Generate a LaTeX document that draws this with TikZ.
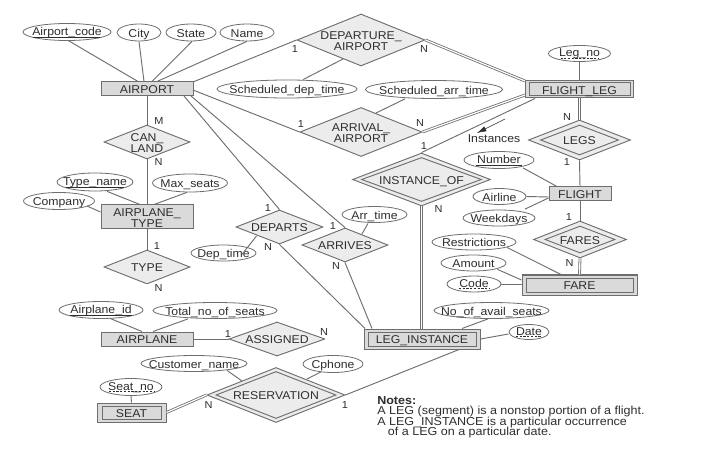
\documentclass[tikz,border=0pt]{standalone}
\usepackage{fontspec}
\setmainfont[FakeStretch=1.08]{Liberation Sans}
\usetikzlibrary{shapes.geometric,arrows.meta}
\definecolor{lc}{HTML}{6E6E6E}
\definecolor{tc}{HTML}{2E2E2E}
\definecolor{rf}{HTML}{DADADA}
\definecolor{df}{HTML}{ECECEC}
\AtBeginDocument{\lineskiplimit=-6pt\relax}
\newcommand{\zt}[1]{\vbox to 0pt{\vss\hbox to 0pt{\hss\smash{\lower3.7pt\hbox{\begin{tabular}{@{}c@{}}#1\end{tabular}}}\hss}\vss}}
\newcommand{\zu}[1]{\vbox to 0pt{\vss\hbox to 0pt{\hss\smash{\lower2.7pt\hbox{\begin{tabular}{@{}c@{}}#1\end{tabular}}}\hss}\vss}}
\tikzset{
  basefont/.style={font=\fontsize{8.5}{7.9}\selectfont,text=tc},
  ent/.style={shape=rectangle,draw=lc,fill=rf,line width=.75pt,inner sep=0pt,basefont,minimum width=#1*.75pt},
  rel/.style n args={2}{shape=diamond,draw=lc,fill=df,line width=.7pt,inner sep=0pt,basefont,minimum width=#1*1.5pt,minimum height=#2*1.5pt},
  att/.style n args={2}{shape=ellipse,draw=lc,fill=white,line width=.6pt,inner sep=0pt,basefont,minimum width=#1*1.5pt,minimum height=#2*1.5pt},
  conn/.style={draw=lc,line width=.7pt},
  dbl/.style={draw=lc,line width=.6pt,double=white,double distance=.9pt},
  uline/.style={draw=tc,line width=.4pt},
  duline/.style={draw=tc,line width=.4pt,dash pattern=on 1.6pt off 1.2pt},
  card/.style={inner sep=0pt,font=\fontsize{7.6}{8}\selectfont,text=tc}
}
\begin{document}
\begin{tikzpicture}[x=.75pt,y=-.75pt]
\useasboundingbox (0,0) rectangle (701,460);
\fill[white] (0,0) rectangle (701,460);
% entities
\node[ent=92,minimum height=10.5pt] (airport) at (147,89) {\zt{AIRPORT}};
\node[ent=92,minimum height=18pt] (airtype) at (147,217) {\zt{AIRPLANE\_\\TYPE}};
\node[ent=92,minimum height=10.5pt] (airplane) at (147,339) {\zt{AIRPLANE}};
\node[ent=62,minimum height=10.5pt] (flight) at (580,194) {\zt{FLIGHT}};
\node[ent=108,minimum height=12.75pt] (fleg) at (579,89.5) {};
\node[ent=101,minimum height=9.75pt] (flegin) at (579.5,89.5) {\zt{FLIGHT\_LEG}};
\node[ent=115,minimum height=15pt] (fare) at (579.5,285) {};
\node[ent=107,minimum height=10.5pt] (farein) at (579.5,285) {\zt{FARE}};
\node[ent=116,minimum height=15pt] (leginst) at (422,339) {};
\node[ent=108,minimum height=10.5pt] (leginstin) at (422,339) {\zt{LEG\_INSTANCE}};
\node[ent=69,minimum height=14.25pt] (seat) at (131.5,412.5) {};
\node[ent=59,minimum height=9.75pt] (seatin) at (131.5,412.5) {\zt{SEAT}};
% relationships
\node[rel={43}{17}] (canland) at (147,142) {\zt{CAN\_\\LAND}};
\node[rel={43}{17}] (type) at (147,267) {\zt{TYPE}};
\node[rel={48}{17}] (assigned) at (277,339) {\zt{ASSIGNED}};
\node[rel={64}{26}] (deptair) at (361,40) {\zt{DEPARTURE\_\\AIRPORT}};
\node[rel={61}{24.5}] (arrair) at (361,132) {\zt{ARRIVAL\_\\AIRPORT}};
\node[rel={43.5}{17}] (departs) at (279.5,227) {\zt{DEPARTS}};
\node[rel={43}{17}] (arrives) at (345,245) {\zt{ARRIVES}};
\node[rel={69}{27.5}] (reserv) at (276,395) {};
\node[rel={60}{23.5}] (reservin) at (276,395) {\zt{RESERVATION}};
\node[rel={69}{26.5}] (instof) at (421.5,179.5) {};
\node[rel={60}{22}] (instofin) at (421.5,179.5) {\zt{INSTANCE\_OF}};
\node[rel={51}{20}] (legs) at (579.5,140) {};
\node[rel={39}{15}] (legsin) at (579.5,140) {\zt{LEGS}};
\node[rel={46.5}{18.5}] (fares) at (580,239.5) {};
\node[rel={35}{13.5}] (faresin) at (580,239.5) {\zt{FARES}};
% attributes
\node[att={44}{8.5}] (acode) at (67,32) {\zu{Airport\_code}};
\node[att={22}{8.5}] (city) at (139,32.5) {\zt{City}};
\node[att={25}{8.5}] (state) at (191,32.5) {\zt{State}};
\node[att={27}{8.5}] (name) at (247,32.5) {\zt{Name}};
\node[att={38}{9}] (tname) at (95,182) {\zu{Type\_name}};
\node[att={37.5}{9}] (maxseats) at (190,183) {\zt{Max\_seats}};
\node[att={35.5}{8.5}] (company) at (59,201) {\zt{Company}};
\node[att={42}{8.5}] (apid) at (101,310) {\zu{Airplane\_id}};
\node[att={62}{8}] (totseats) at (215,310.5) {\zt{Total\_no\_of\_seats}};
\node[att={53}{8}] (custname) at (194,363.5) {\zt{Customer\_name}};
\node[att={30}{8.5}] (cphone) at (333,364) {\zt{Cphone}};
\node[att={31}{8.5}] (seatno) at (131,387) {\zu{Seat\_no}};
\node[att={70}{9}] (sdep) at (287,89) {\zt{Scheduled\_dep\_time}};
\node[att={68.5}{9}] (sarr) at (434,89.5) {\zt{Scheduled\_arr\_time}};
\node[att={31}{8}] (legno) at (579.5,53.5) {\zu{Leg\_no}};
\node[att={35}{8.5}] (number) at (499,160) {\zu{Number}};
\node[att={26.5}{8}] (airline) at (499.5,196.5) {\zt{Airline}};
\node[att={36}{8}] (weekdays) at (499,218) {\zt{Weekdays}};
\node[att={42}{8}] (restr) at (474,242) {\zt{Restrictions}};
\node[att={32.5}{8}] (amount) at (473.5,263) {\zt{Amount}};
\node[att={27}{8}] (code) at (474,284) {\zu{Code}};
\node[att={57.5}{8}] (noavail) at (491.5,310.5) {\zt{No\_of\_avail\_seats}};
\node[att={20}{7.5}] (date) at (529,332) {\zu{Date}};
\node[att={32.5}{8}] (arrtime) at (374.5,214.5) {\zt{Arr\_time}};
\node[att={32.5}{8}] (deptime) at (223.5,253) {\zt{Dep\_time}};
% key underlines
\draw[uline] ([shift={(-34,5)}]acode.center) -- ([shift={(33,5)}]acode.center);
\draw[uline] ([shift={(-29,5)}]tname.center) -- ([shift={(29,5)}]tname.center);
\draw[uline] ([shift={(-31,5)}]apid.center) -- ([shift={(31,5)}]apid.center);
\draw[uline] ([shift={(-23,5)}]number.center) -- ([shift={(23,5)}]number.center);
\draw[duline] ([shift={(-19,4.5)}]legno.center) -- ([shift={(19,4.5)}]legno.center);
\draw[duline] ([shift={(-22,4.5)}]seatno.center) -- ([shift={(23,4.5)}]seatno.center);
\draw[duline] ([shift={(-15,4.5)}]code.center) -- ([shift={(15,4.5)}]code.center);
\draw[duline] ([shift={(-13,4.5)}]date.center) -- ([shift={(13,4.5)}]date.center);
% attribute connectors
\draw[conn] ([shift={(1,-.5)}]acode.south) -- ([shift={(-9,0)}]airport.north);
\draw[conn] (city.south) -- ([shift={(-3,0)}]airport.north);
\draw[conn] ([shift={(1,0)}]state.south) -- ([shift={(5,0)}]airport.north);
\draw[conn] (name.south) -- ([shift={(10,0)}]airport.north);
\draw[conn] ([shift={(12,0)}]tname.south) -- ([shift={(-7,0)}]airtype.north);
\draw[conn] ([shift={(-3,0)}]maxseats.south) -- ([shift={(7,0)}]airtype.north);
\draw[conn] ([shift={(28,5)}]company.center) -- ([shift={(0,-5)}]airtype.west);
\draw[conn] ([shift={(9,-.5)}]apid.south) -- ([shift={(-5,0)}]airplane.north);
\draw[conn] ([shift={(-27,0)}]totseats.south) -- ([shift={(6,0)}]airplane.north);
\draw[conn] ([shift={(33,-1.5)}]custname.south) -- ([shift={(-34,-14)}]reserv.center);
\draw[conn] ([shift={(-12,-1)}]cphone.south) -- ([shift={(31,-16)}]reserv.center);
\draw[conn] (seatno.south) -- (seat.north);
\draw[conn] ([shift={(16,0)}]sdep.north) -- ([shift={(-18,19)}]deptair.center);
\draw[conn] ([shift={(-29,0)}]sarr.south) -- ([shift={(15,-19)}]arrair.center);
\draw[conn] (legno.south) -- ([shift={(.5,0)}]fleg.north);
\draw[conn] ([shift={(24,-1)}]number.south) -- ([shift={(-23,0)}]flight.north);
\draw[conn] (airline.east) -- ([shift={(0,3)}]flight.west);
\draw[conn] ([shift={(26,-.5)}]weekdays.north) -- ([shift={(0,4)}]flight.west);
\draw[conn] ([shift={(33,-3)}]restr.south) -- ([shift={(-18.5,0)}]fare.north);
\draw[conn] ([shift={(24,-2)}]amount.south) -- ([shift={(0,-5)}]fare.west);
\draw[conn] (code.east) -- ([shift={(0,-1)}]fare.west);
\draw[conn] ([shift={(-3.5,0)}]noavail.south) -- ([shift={(40,0)}]leginst.north);
\draw[conn] (date.west) ++(0,2) -- (leginst.east);
\draw[conn] ([shift={(-6.5,.5)}]arrtime.south) -- ([shift={(17,-11)}]arrives.center);
\draw[conn] ([shift={(18.5,-7)}]deptime.south) -- ([shift={(-23,9)}]departs.center);
% relationship connectors
\draw[conn] ([shift={(46,-7)}]airport.center) -- (deptair.west);
\draw[conn] ([shift={(46,1)}]airport.center) -- (arrair.west);
\draw[conn] (airport.south) -- (canland.north);
\draw[conn] (canland.south) -- (airtype.north);
\draw[conn] (airtype.south) -- (type.north);
\draw[dbl] (type.south) -- (airplane.north);
\draw[conn] (airplane.east) -- (assigned.west);
\draw[dbl] (assigned.east) -- (leginst.west);
\draw[conn] ([shift={(37,7)}]airport.center) -- (departs.north);
\draw[conn] ([shift={(44,7)}]airport.center) -- (arrives.north);
\draw[conn] (departs.south) -- ([shift={(-57,0)}]leginst.north);
\draw[conn] (arrives.south) -- ([shift={(-50,0)}]leginst.north);
\draw[dbl] (deptair.east) -- ([shift={(-54,-8.5)}]fleg.center);
\draw[dbl] (arrair.east) -- ([shift={(-54,5.5)}]fleg.center);
\draw[conn] (instof.north) -- ([shift={(-44,0)}]fleg.south);
\draw[dbl] (instof.south) -- ([shift={(-.5,0)}]leginst.north);
\draw[dbl] ([shift={(.5,0)}]fleg.south) -- (legs.north);
\draw[conn] (legs.south) -- (flight.north);
\draw[conn] (flight.south) -- (fares.north);
\draw[dbl] (fares.south) -- (fare.north);
\draw[dbl] (seat.east) -- (reserv.west);
\draw[conn] (reserv.east) -- ([shift={(37,0)}]leginst.south);
% instances arrow
\coordinate (instA) at (505,119);
\coordinate (instB) at (477,133);
\draw[draw=tc,line width=.4pt,-{Latex[length=7pt,width=4pt]}] (instA) -- (instB);
\node[inner sep=0pt,font=\fontsize{8.5}{9}\selectfont,text=tc] (instances) at (494,138.5) {Instances};
% cardinalities
\node[card] (c01) at (159,121) {M};
\node[card] (c02) at (158.5,162) {N};
\node[card] (c03) at (157,246.5) {1};
\node[card] (c04) at (158.5,288) {N};
\node[card] (c05) at (228,334) {1};
\node[card] (c06) at (324,332) {N};
\node[card] (c07) at (208.5,405) {N};
\node[card] (c08) at (345,405) {1};
\node[card] (c09) at (295,49.5) {1};
\node[card] (c10) at (424,49.5) {N};
\node[card] (c11) at (301,124) {1};
\node[card] (c12) at (420,123) {N};
\node[card] (c13) at (424,146) {1};
\node[card] (c14) at (438.5,209) {N};
\node[card] (c15) at (567,117) {N};
\node[card] (c16) at (567,162) {1};
\node[card] (c17) at (569,217) {1};
\node[card] (c18) at (569.5,263) {N};
\node[card] (c19) at (268,208) {1};
\node[card] (c20) at (268,247) {N};
\node[card] (c21) at (333,226) {1};
\node[card] (c22) at (336,266) {N};
% notes
\node[anchor=north west,inner sep=0pt,align=left,font=\fontsize{8.7}{7.8}\selectfont,text=tc] (notes) at (377,396)
 {\textbf{Notes:}\\A LEG (segment) is a nonstop portion of a flight.\\A LEG\_INSTANCE is a particular occurrence\\\hspace*{8pt}of a LEG on a particular date.};
\end{tikzpicture}
\end{document}
